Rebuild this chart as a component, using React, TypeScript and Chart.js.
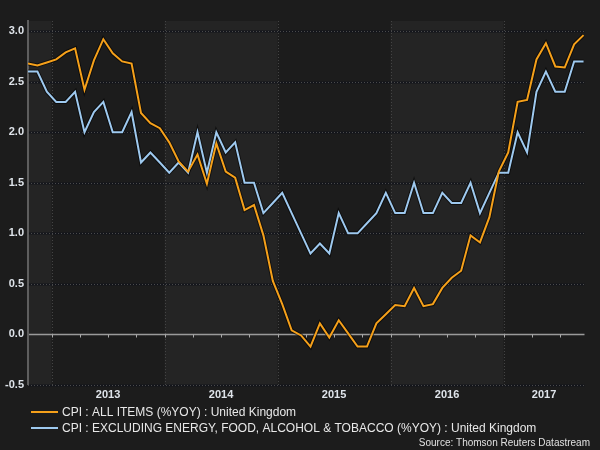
import React, { useEffect, useRef } from "react";
import { Chart, registerables } from "chart.js";

Chart.register(...registerables);

// Monthly observations, Oct 2012 – Sep 2017
const months = [
  "2012-10", "2012-11", "2012-12",
  "2013-01", "2013-02", "2013-03", "2013-04", "2013-05", "2013-06", "2013-07", "2013-08", "2013-09", "2013-10", "2013-11", "2013-12",
  "2014-01", "2014-02", "2014-03", "2014-04", "2014-05", "2014-06", "2014-07", "2014-08", "2014-09", "2014-10", "2014-11", "2014-12",
  "2015-01", "2015-02", "2015-03", "2015-04", "2015-05", "2015-06", "2015-07", "2015-08", "2015-09", "2015-10", "2015-11", "2015-12",
  "2016-01", "2016-02", "2016-03", "2016-04", "2016-05", "2016-06", "2016-07", "2016-08", "2016-09", "2016-10", "2016-11", "2016-12",
  "2017-01", "2017-02", "2017-03", "2017-04", "2017-05", "2017-06", "2017-07", "2017-08", "2017-09",
];

const cpiAllItems = [
  2.68, 2.66, 2.69,
  2.72, 2.79, 2.83, 2.42, 2.71, 2.92, 2.78, 2.70, 2.68, 2.19, 2.09, 2.04,
  1.90, 1.71, 1.61, 1.78, 1.49, 1.89, 1.61, 1.55, 1.23, 1.28, 0.98, 0.53,
  0.30, 0.04, -0.01, -0.12, 0.11, -0.03, 0.14, 0.01, -0.12, -0.12, 0.11, 0.20,
  0.29, 0.28, 0.46, 0.28, 0.30, 0.46, 0.56, 0.63, 0.98, 0.91, 1.16, 1.61,
  1.80, 2.30, 2.32, 2.72, 2.88, 2.65, 2.64, 2.87, 2.96,
];

const cpiCore = [
  2.6, 2.6, 2.4,
  2.3, 2.3, 2.4, 2.0, 2.2, 2.3, 2.0, 2.0, 2.2, 1.7, 1.8, 1.7,
  1.6, 1.7, 1.6, 2.0, 1.6, 2.0, 1.8, 1.9, 1.5, 1.5, 1.2, 1.3,
  1.4, 1.2, 1.0, 0.8, 0.9, 0.8, 1.2, 1.0, 1.0, 1.1, 1.2, 1.4,
  1.2, 1.2, 1.5, 1.2, 1.2, 1.4, 1.3, 1.3, 1.5, 1.2, 1.4, 1.6,
  1.6, 2.0, 1.8, 2.4, 2.6, 2.4, 2.4, 2.7, 2.7,
];

const yearLabels = ["2013", "2014", "2015", "2016", "2017"];
const yTickValues = [-0.5, 0, 0.5, 1.0, 1.5, 2.0, 2.5, 3.0];
const seriesNames = [
  "CPI : ALL ITEMS (%YOY) : United Kingdom",
  "CPI : EXCLUDING ENERGY, FOOD, ALCOHOL & TOBACCO (%YOY) : United Kingdom",
];
const sourceText = "Source: Thomson Reuters Datastream";

const ORANGE = "#f5a01a";
const BLUE = "#9ec9ef";
const BG = "#1c1c1c";
const BAND = "#242424";
const TEXT = "#dfe4ea";
const FONT = '"Liberation Sans", Arial, sans-serif';

const X_MAX = 59.1;

// year boundaries (Jan 1) as fractional index: points sit mid-month
const yearStarts = months
  .map((m, i) => (m.endsWith("-01") ? i - 0.5 : null))
  .filter((v) => v !== null) as number[];
const quarterStarts = months
  .map((m, i) => (/-(01|04|07|10)$/.test(m) ? i - 0.5 : null))
  .filter((v) => v !== null && (v as number) >= 0) as number[];
const yearCenters = yearStarts.map((s, i) => {
  const e = i + 1 < yearStarts.length ? yearStarts[i + 1] : X_MAX;
  return (s + e) / 2;
});

const decorPlugin = {
  id: "decor",
  beforeDraw(chart: any) {
    const { ctx, chartArea: a } = chart;
    const x = chart.scales.x;
    ctx.save();
    ctx.fillStyle = BG;
    ctx.fillRect(0, 0, chart.width, chart.height);
    // alternating year bands (light: before first year, then every other year)
    const edges = [x.min, ...yearStarts, x.max];
    for (let i = 0; i < edges.length - 1; i++) {
      if (i % 2 === 0) {
        const x0 = x.getPixelForValue(edges[i]);
        const x1 = x.getPixelForValue(edges[i + 1]);
        ctx.fillStyle = BAND;
        ctx.fillRect(x0, a.top, x1 - x0, a.bottom - a.top);
      }
    }
    ctx.restore();
  },
  beforeDatasetsDraw(chart: any) {
    const { ctx, chartArea: a } = chart;
    const x = chart.scales.x;
    const y = chart.scales.y;
    ctx.save();
    // horizontal grid
    yTickValues.forEach((v) => {
      if (v === 0) return;
      const py = Math.round(y.getPixelForValue(v)) + 0.5;
      ctx.setLineDash([]);
      ctx.strokeStyle = "rgba(18,20,28,0.9)";
      ctx.lineWidth = 2;
      ctx.beginPath();
      ctx.moveTo(a.left, py);
      ctx.lineTo(a.right, py);
      ctx.stroke();
      ctx.setLineDash([1, 2]);
      ctx.strokeStyle = "#4a4a4a";
      ctx.lineWidth = 1;
      ctx.beginPath();
      ctx.moveTo(a.left, py);
      ctx.lineTo(a.right, py);
      ctx.stroke();
    });
    // vertical year gridlines
    ctx.setLineDash([1, 2]);
    ctx.strokeStyle = "#444";
    ctx.lineWidth = 1;
    yearStarts.forEach((v) => {
      const px = Math.round(x.getPixelForValue(v)) + 0.5;
      ctx.beginPath();
      ctx.moveTo(px, a.top);
      ctx.lineTo(px, a.bottom);
      ctx.stroke();
    });
    ctx.setLineDash([]);
    // zero line
    const zy = Math.round(y.getPixelForValue(0)) + 0.5;
    ctx.strokeStyle = "#9a9a9a";
    ctx.lineWidth = 1.5;
    ctx.beginPath();
    ctx.moveTo(a.left, zy);
    ctx.lineTo(a.right, zy);
    ctx.stroke();
    ctx.lineWidth = 1;
    ctx.strokeStyle = "#aaa";
    quarterStarts.forEach((v) => {
      const px = Math.round(x.getPixelForValue(v)) + 0.5;
      ctx.beginPath();
      ctx.moveTo(px, zy);
      ctx.lineTo(px, zy + 3);
      ctx.stroke();
    });
    // y axis line
    ctx.strokeStyle = "#5e5e5e";
    ctx.lineWidth = 2;
    ctx.beginPath();
    ctx.moveTo(a.left, a.top - 1);
    ctx.lineTo(a.left, a.bottom);
    ctx.stroke();
    ctx.restore();
  },
  afterDraw(chart: any) {
    const { ctx } = chart;
    ctx.save();
    const colors = [ORANGE, BLUE];
    const rows = [412, 428];
    ctx.font = `12px ${FONT}`;
    ctx.textBaseline = "middle";
    ctx.textAlign = "left";
    seriesNames.forEach((name, i) => {
      ctx.strokeStyle = colors[i];
      ctx.lineWidth = 2;
      ctx.beginPath();
      ctx.moveTo(31, rows[i]);
      ctx.lineTo(58, rows[i]);
      ctx.stroke();
      ctx.fillStyle = "#e8e8e8";
      ctx.fillText(name, 62, rows[i] + 0.5);
    });
    ctx.font = `10px ${FONT}`;
    ctx.textAlign = "right";
    ctx.fillStyle = "#e0e0e0";
    ctx.fillText(sourceText, 590, 443);
    ctx.restore();
  },
};

export default function App() {
  const ref = useRef<HTMLCanvasElement | null>(null);

  useEffect(() => {
    if (!ref.current) return;
    const toPts = (arr: number[]) => arr.map((v, i) => ({ x: i, y: v }));
    const chart = new Chart(ref.current, {
      type: "line",
      data: {
        datasets: [
          {
            label: seriesNames[0],
            data: toPts(cpiAllItems),
            borderColor: ORANGE,
            borderWidth: 2,
            pointRadius: 0,
            tension: 0,
            order: 0,
          },
          {
            label: seriesNames[1],
            data: toPts(cpiCore),
            borderColor: BLUE,
            borderWidth: 2,
            pointRadius: 0,
            tension: 0,
            order: 0,
          },
          {
            label: "shadow-a",
            data: toPts(cpiAllItems),
            borderColor: "rgba(0,0,0,0.55)",
            borderWidth: 4,
            pointRadius: 0,
            tension: 0,
            order: 1,
          },
          {
            label: "shadow-b",
            data: toPts(cpiCore),
            borderColor: "rgba(0,0,0,0.55)",
            borderWidth: 4,
            pointRadius: 0,
            tension: 0,
            order: 2,
          },
        ],
      },
      options: {
        responsive: false,
        animation: false,
        layout: { padding: { left: 0, right: 15.5, top: 21, bottom: 45 } },
        plugins: {
          legend: { display: false },
          tooltip: { enabled: false },
        },
        scales: {
          x: {
            type: "linear",
            min: 0,
            max: X_MAX,
            grid: { display: false, drawTicks: false },
            border: { display: false },
            afterFit: (s: any) => {
              s.height = 20;
            },
            afterBuildTicks: (s: any) => {
              s.ticks = yearCenters.map((v) => ({ value: v }));
            },
            ticks: {
              autoSkip: false,
              maxRotation: 0,
              padding: 3,
              color: TEXT,
              font: { family: FONT, size: 11, weight: "bold" },
              callback: (_v: any, i: number) => yearLabels[i],
            },
          },
          y: {
            type: "linear",
            min: -0.5,
            max: 3.1,
            grid: { display: false, drawTicks: false },
            border: { display: false },
            afterFit: (s: any) => {
              s.width = 28;
            },
            afterBuildTicks: (s: any) => {
              s.ticks = yTickValues.map((v) => ({ value: v }));
            },
            ticks: {
              padding: 4,
              color: TEXT,
              font: { family: FONT, size: 11, weight: "bold" },
              callback: (v: any) => Number(v).toFixed(1),
            },
          },
        },
      },
      plugins: [decorPlugin],
    });
    return () => chart.destroy();
  }, []);

  return (
    <div style={{ position: "absolute", left: 0, top: 0, width: 600, height: 450, background: BG }}>
      <canvas ref={ref} width={600} height={450} />
    </div>
  );
}
